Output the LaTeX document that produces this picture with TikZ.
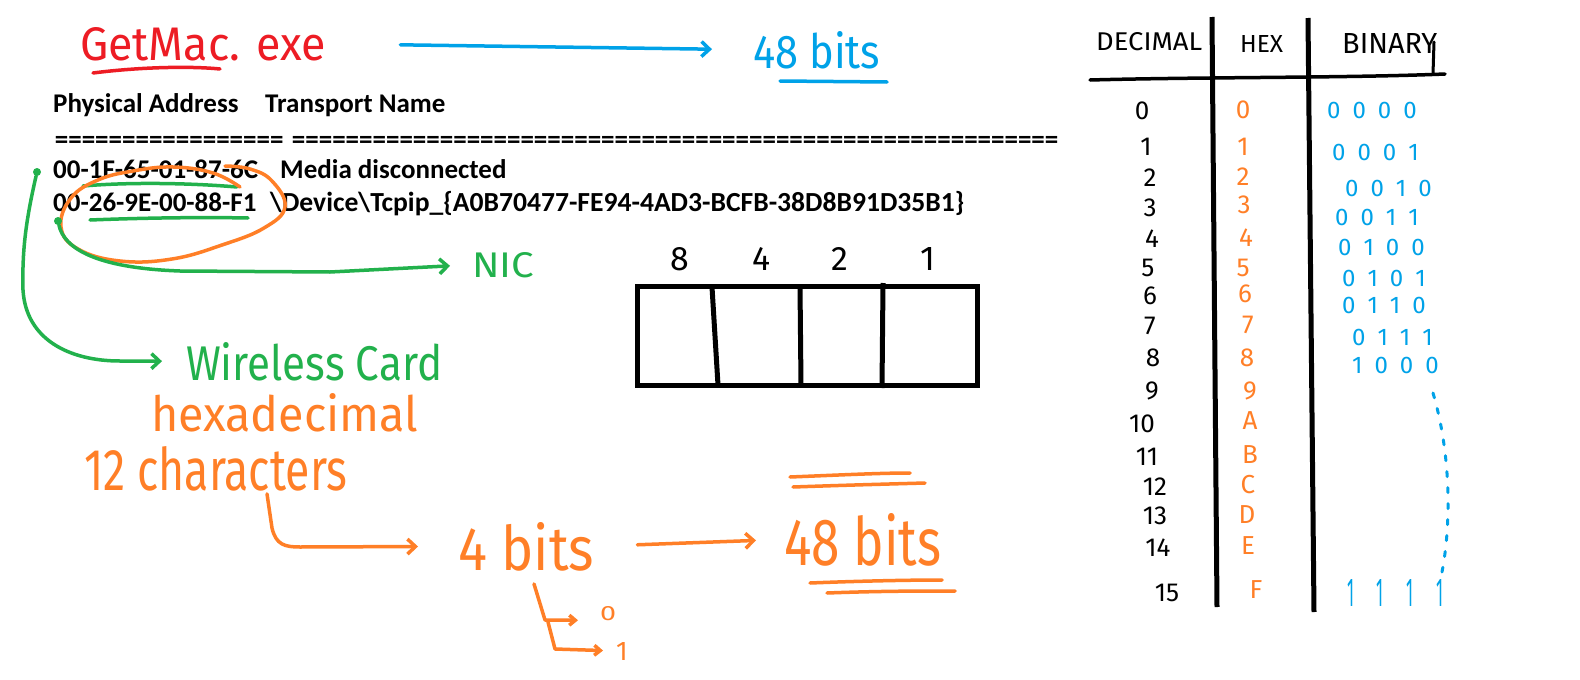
\documentclass[tikz,border=0pt]{standalone}
\usepackage{fontspec}
\setmainfont{Carlito}
\newfontfamily\hw{Fira Sans}
\usetikzlibrary{arrows.meta}
\definecolor{pred}{RGB}{237,28,36}
\definecolor{pblue}{RGB}{0,162,232}
\definecolor{pgreen}{RGB}{34,177,76}
\definecolor{porange}{RGB}{255,127,39}
\newcommand\hwt[3]{\resizebox{#1}{#2}{\hw #3}}
\newcommand\binrow[4]{#1\hspace{12pt}#2\hspace{12pt}#3\hspace{12pt}#4}
\tikzset{
  hand/.style={line width=3.5pt, line cap=round, line join=round},
  barb/.style={-{Straight Barb[length=8pt,width=15pt]}},
  smallbarb/.style={-{Straight Barb[length=6pt,width=10pt]}},
  lbl/.style={inner sep=0pt, anchor=base west},
  typ/.style={inner sep=0pt, anchor=base west, font=\fontsize{27}{32}\selectfont\bfseries},
  dec/.style={inner sep=0pt, anchor=center, font=\hw\fontsize{26}{26}\selectfont},
  hexc/.style={inner sep=0pt, anchor=center, text=porange, font=\hw\fontsize{26}{26}\selectfont},
  binc/.style={inner sep=0pt, anchor=west, text=pblue, font=\hw\fontsize{24}{24}\selectfont},
  dot/.style={circle, fill=pgreen, inner sep=0pt, minimum size=8pt},
}
\begin{document}
\begin{tikzpicture}[x=1pt,y=-1pt]
\useasboundingbox (0,0) rectangle (1580,680);
\fill[white] (0,0) rectangle (1580,680);

% ---- handwritten labels ----
\node[lbl, text=pred] (getmac) at (80,60) {\hwt{246pt}{33pt}{GetMac. exe}};
\node[lbl, text=pblue] (bits48b) at (753,68) {\hwt{127pt}{37pt}{48 bits}};
\draw[hand, pred] (93,73) .. controls (140,67) and (190,66) .. (220,69);
\draw[hand, pblue] (780,81) -- (887,82);
\draw[hand, pblue, barb, shorten <=74pt, shorten >=41pt] (getmac.east) -- (bits48b.west);

% ---- typed getmac output ----
\node[typ] (ph) at (53,112) {Physical Address};
\node[typ] (tn) at (265,112) {Transport Name};
\node[typ] (eq1) at (53,148) {\hbox to 232pt{\cleaders\hbox{=}\hfill}};
\node[typ] (eq2) at (290,148) {\hbox to 770pt{\cleaders\hbox{=}\hfill}};
\node[typ] (mac1) at (53,178) {00-1F-65-01-87-6C};
\node[typ] (tr1) at (280,178) {Media disconnected};
\node[typ] (mac2) at (53,211) {00-26-9E-00-88-F1};
\node[typ, font=\fontsize{27.6}{32}\selectfont\bfseries] (tr2) at (270,211) {\textbackslash Device\textbackslash Tcpip\_\{A0B70477-FE94-4AD3-BCFB-38D8B91D35B1\}};

% green underlines
\draw[hand, pgreen] (83,186) .. controls (130,182) and (190,183) .. (237,187);
\draw[hand, pgreen] (90,220) .. controls (140,218) and (200,217) .. (248,218);

% orange ellipse
\draw[hand, porange] plot[smooth, tension=0.7] coordinates {(240,187) (213,173) (173,167) (133,171) (98,180) (71,198) (61,227) (78,249) (120,261) (172,259) (222,245) (264,228) (285,207) (272,181) (250,169) (225,166)};

% green arrows
\node[dot] (dot1) at (37,172) {};
\node[dot] (dot2) at (58,221) {};
\node[lbl, text=pgreen] (nic) at (472,277) {\hwt{62pt}{25pt}{NIC}};
\node[lbl, text=pgreen] (wireless) at (186,380) {\hwt{256pt}{38pt}{Wireless Card}};
\draw[hand, pgreen, barb, shorten >=24pt] (dot1) .. controls (26,220) and (22,250) .. (23,290) .. controls (26,340) and (70,361) .. (120,361) -- (wireless.west);
\draw[hand, pgreen, barb, shorten >=22pt] (dot2) .. controls (64,248) and (95,268) .. (180,271) -- (330,272) -- (nic.west);

% orange labels
\node[lbl, text=porange] (hexa) at (151,431) {\hwt{267pt}{38pt}{hexadecimal}};
\node[lbl, text=porange] (twelve) at (84,490) {\hwt{263pt}{44pt}{12 characters}};
\node[lbl, text=porange] (bits4) at (458,570) {\hwt{136pt}{48pt}{4 bits}};
\node[lbl, text=porange] (bits48o) at (784,565) {\hwt{157pt}{52pt}{48 bits}};
\node[lbl, text=porange] (zero) at (600,620) {\hwt{16pt}{14pt}{0}};
\node[lbl, text=porange] (one) at (616,660) {\resizebox{!}{18pt}{\hw 1}};

\draw[hand, porange, barb, shorten >=40pt] ([xshift=183pt,yshift=-3pt]twelve.south west) -- (272,528) .. controls (276,545) and (285,547) .. (300,547) -- (bits4.west);
\draw[hand, porange, barb, shorten <=43pt, shorten >=28pt] (bits4.east) -- (bits48o.west);
\draw[hand, porange] (790,477) .. controls (840,475) and (880,473) .. (910,473);
\draw[hand, porange] (793,487) .. controls (850,485) and (890,484) .. (925,483);
\draw[hand, porange] (810,583) .. controls (860,581) and (910,580) .. (942,580);
\draw[hand, porange] (827,593) .. controls (880,591) and (920,591) .. (955,591);
\draw[hand, porange, smallbarb, shorten >=22pt] ([xshift=76pt,yshift=-13pt]bits4.south west) -- (545,620) -- (zero.south west);
\draw[hand, porange, smallbarb, shorten >=13pt] (548,622) -- (555,649) -- (one.west);

% ---- 8 4 2 1 box ----
\foreach \v/\x in {8/680,4/762,2/840,1/928}
  \node[inner sep=0pt, anchor=base, font=\hw] (w\v) at (\x,270) {\resizebox{!}{23pt}{\hw \v}};
\draw[line width=5pt] (637,286) rectangle (977,385);
\draw[line width=5pt] (712,287) -- (718,385);
\draw[line width=5pt] (800,286) -- (801,385);
\draw[line width=5pt] (883,283) -- (882,388);

% ---- table ----
\node[lbl] (hdec) at (1096,50) {\hwt{106pt}{18pt}{DECIMAL}};
\node[lbl] (hhex) at (1240,52) {\hwt{43pt}{17pt}{HEX}};
\node[lbl] (hbin) at (1342,53) {\hwt{95pt}{20pt}{BINARY}};
\draw[line width=3.5pt, line cap=round] (1090,80) .. controls (1200,77) and (1350,78) .. (1445,74);
\draw[line width=3pt, line cap=round] (1434,42) -- (1433,74);
\draw[line width=5pt] (1212,17) -- (1217,607);
\draw[line width=5pt] (1308,18) -- (1314,612);

\foreach \d/\x/\y in {0/1142/111,1/1146/147,2/1150/178,3/1150/208,4/1152/239,5/1148/268,6/1150/296,7/1150/326,8/1153/358,9/1152/391,10/1142/424,11/1147/457,12/1155/487,13/1155/516,14/1158/548,15/1167/593}
  \node[dec] (d\d) at (\x,\y) {\d};
\foreach \h/\x/\y/\n in {0/1243/110/0,1/1243/147/1,2/1243/177/2,3/1244/205/3,4/1246/238/4,5/1243/268/5,6/1245/294/6,7/1248/325/7,8/1247/358/8,9/1250/391/9,A/1250/421/10,B/1250/455/11,C/1248/485/12,D/1247/515/13,E/1248/546/14,F/1256/590/15}
  \node[hexc] (h\n) at (\x,\y) {\h};

\node[binc] (b0) at (1327,110) {\binrow0000};
\node[binc] (b1) at (1332,152) {\binrow0001};
\node[binc] (b2) at (1345,188) {\binrow0010};
\node[binc] (b3) at (1335,217) {\binrow0011};
\node[binc] (b4) at (1338,247) {\binrow0100};
\node[binc] (b5) at (1342,278) {\binrow0101};
\node[binc] (b6) at (1342,305) {\binrow0110};
\node[binc] (b7) at (1352,337) {\binrow0111};
\node[binc] (b8) at (1352,365) {\binrow1000};
\node[lbl, text=pblue] (b15) at (1347,606) {\hwt{96pt}{27pt}{1\hspace{14pt}1\hspace{14pt}1\hspace{14pt}1}};
\draw[pblue, line width=3pt, line cap=round, dash pattern=on 5pt off 11pt] (1433,393) .. controls (1450,450) and (1452,520) .. (1442,572);
\end{tikzpicture}
\end{document}
